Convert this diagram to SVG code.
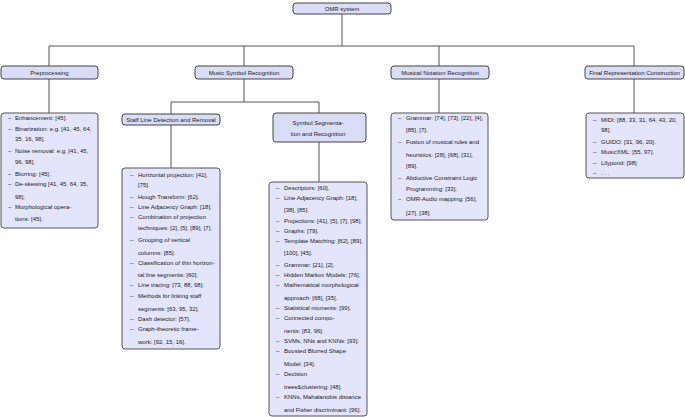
<svg xmlns="http://www.w3.org/2000/svg" width="685" height="417" viewBox="0 0 685 417">
<style>
.hd{fill:#d9ddf8;stroke:#444;stroke-width:1}
.ls{fill:#e2e5fb;stroke:#555;stroke-width:1}
text{font-family:"Liberation Sans",Arial,sans-serif;font-size:6px;fill:#1a1a1a}
.c{text-anchor:middle}
.cn{stroke:#555;stroke-width:1;fill:none}
</style>
<rect width="685" height="417" fill="#ffffff"/>
<g id="connectors">
<path class="cn" d="M342 14V46" stroke-width="1.6"/>
<path class="cn" d="M49 46H634M49 46V66M244 46V66M439 46V66M634 46V66"/>
<path class="cn" d="M49 79V113M439 79V113M634 79V113M244 79V102M171 102H319M171 102V114M319 102V113M171 125V168M319 142V182"/>
</g>
<g id="omr"><rect class="hd" x="293" y="3" width="98" height="11" rx="3"/><text class="c" x="342" y="11">OMR system</text></g>
<g id="pre"><rect class="hd" x="1" y="66" width="97" height="13" rx="3"/><text class="c" x="49.5" y="74.5">Preprocessing</text></g>
<g id="msr"><rect class="hd" x="195" y="66" width="98" height="13" rx="3"/><text class="c" x="244" y="74.5">Music Symbol Recognition</text></g>
<g id="mnr"><rect class="hd" x="391" y="66" width="98" height="13" rx="3"/><text class="c" x="440" y="74.5">Musical Notation Recognition</text></g>
<g id="frc"><rect class="hd" x="585" y="66" width="99" height="13" rx="3"/><text class="c" x="634.5" y="74.5">Final Representation Construction</text></g>
<g id="staff"><rect class="hd" x="122" y="114" width="98" height="11" rx="3"/><text class="c" x="171" y="122">Staff Line Detection and Removal</text></g>
<g id="seg"><rect class="hd" x="273" y="113" width="93" height="29" rx="3"/><text class="c" x="318" y="125">Symbol Segmenta-</text><text class="c" x="318" y="136">tion and Recognition</text></g>
<g id="pre-list"><rect class="ls" x="1" y="113" width="97" height="115" rx="3"/>
<text x="8" y="120.3">–</text><text x="15" y="120.3">Enhancement: [45].</text>
<text x="8" y="131.3">–</text><text x="15" y="131.3">Binarization: e.g. [41, 45, 64,</text>
<text x="15" y="141.3">35, 16, 98].</text>
<text x="8" y="152.7">–</text><text x="15" y="152.7">Noise removal: e.g. [41, 45,</text>
<text x="15" y="163.7">96, 98].</text>
<text x="8" y="176">–</text><text x="15" y="176">Blurring: [45].</text>
<text x="8" y="186.3">–</text><text x="15" y="186.3">De-skewing [41, 45, 64, 35,</text>
<text x="15" y="198.7">98].</text>
<text x="8" y="208.7">–</text><text x="15" y="208.7">Morphological opera-</text>
<text x="15" y="221">tions: [45].</text>
</g>
<g id="staff-list"><rect class="ls" x="122" y="168" width="98" height="181" rx="3"/>
<text x="130" y="177">–</text><text x="138" y="177">Horizontal projection: [41],</text>
<text x="138" y="187">[75].</text>
<text x="130" y="198.7">–</text><text x="138" y="198.7">Hough Transform: [62].</text>
<text x="130" y="208.7">–</text><text x="138" y="208.7">Line Adjacency Graph: [18].</text>
<text x="130" y="218.7">–</text><text x="138" y="218.7">Combination of projection</text>
<text x="138" y="229.7">techniques: [2], [5], [89], [7].</text>
<text x="130" y="242">–</text><text x="138" y="242">Grouping of vertical</text>
<text x="138" y="254.7">columns: [85].</text>
<text x="130" y="265.3">–</text><text x="138" y="265.3">Classification of thin horizon-</text>
<text x="138" y="277">tal line segments: [60].</text>
<text x="130" y="287">–</text><text x="138" y="287">Line tracing: [73, 88, 98].</text>
<text x="130" y="297.7">–</text><text x="138" y="297.7">Methods for linking staff</text>
<text x="138" y="311">segments: [63, 95, 32].</text>
<text x="130" y="321.3">–</text><text x="138" y="321.3">Dash detector: [57].</text>
<text x="130" y="331.3">–</text><text x="138" y="331.3">Graph-theoretic frame-</text>
<text x="138" y="344.3">work: [92, 15, 16].</text>
</g>
<g id="seg-list"><rect class="ls" x="269" y="182" width="98" height="234" rx="3"/>
<text x="276" y="190.3">–</text><text x="284" y="190.3">Descriptors: [60].</text>
<text x="276" y="200.3">–</text><text x="284" y="200.3">Line Adjacency Graph: [18],</text>
<text x="284" y="212">[38], [85].</text>
<text x="276" y="222.7">–</text><text x="284" y="222.7">Projections: [41], [5], [7], [98].</text>
<text x="276" y="232.7">–</text><text x="284" y="232.7">Graphs: [79].</text>
<text x="276" y="243">–</text><text x="284" y="243">Template Matching: [62], [89],</text>
<text x="284" y="254.7">[100], [45].</text>
<text x="276" y="267">–</text><text x="284" y="267">Grammar: [21], [2].</text>
<text x="276" y="277">–</text><text x="284" y="277">Hidden Markov Models: [76].</text>
<text x="276" y="287">–</text><text x="284" y="287">Mathematical morphological</text>
<text x="284" y="299.7">approach: [68], [35].</text>
<text x="276" y="309.7">–</text><text x="284" y="309.7">Statistical moments: [99].</text>
<text x="276" y="320.3">–</text><text x="284" y="320.3">Connected compo-</text>
<text x="284" y="332.7">nents: [83, 96].</text>
<text x="276" y="342.7">–</text><text x="284" y="342.7">SVMs, NNs and KNNs: [93].</text>
<text x="276" y="353">–</text><text x="284" y="353">Boosted Blurred Shape</text>
<text x="284" y="366">Model: [34].</text>
<text x="276" y="376">–</text><text x="284" y="376">Decision</text>
<text x="284" y="388.7">trees&amp;clustering: [48].</text>
<text x="276" y="399.3">–</text><text x="284" y="399.3">KNNs, Mahalanobis distance</text>
<text x="284" y="412">and Fisher discriminant: [96].</text>
</g>
<g id="mnr-list"><rect class="ls" x="391" y="113" width="97" height="107" rx="3"/>
<text x="398" y="120.3">–</text><text x="406" y="120.3">Grammar: [74], [73], [22], [4],</text>
<text x="406" y="132">[85], [7].</text>
<text x="398" y="143.7">–</text><text x="406" y="143.7">Fusion of musical rules and</text>
<text x="406" y="157">heuristics: [28], [68], [31],</text>
<text x="406" y="168">[89].</text>
<text x="398" y="179.7">–</text><text x="406" y="179.7">Abductive Constraint Logic</text>
<text x="406" y="191.3">Programming: [33].</text>
<text x="398" y="201.3">–</text><text x="406" y="201.3">OMR-Audio mapping: [56],</text>
<text x="406" y="214.7">[27], [38].</text>
</g>
<g id="frc-list"><rect class="ls" x="586" y="113" width="98" height="65" rx="3"/>
<text x="593" y="122">–</text><text x="601" y="122">MIDI: [88, 33, 31, 64, 43, 20,</text>
<text x="601" y="132">98].</text>
<text x="593" y="143.7">–</text><text x="601" y="143.7">GUIDO: [31, 96, 20].</text>
<text x="593" y="153.7">–</text><text x="601" y="153.7">MusicXML: [55, 97].</text>
<text x="593" y="164.7">–</text><text x="601" y="164.7">Lilypond: [98]</text>
<text x="593" y="175.3">–</text><text x="601" y="175.3">. . .</text>
</g>
</svg>
